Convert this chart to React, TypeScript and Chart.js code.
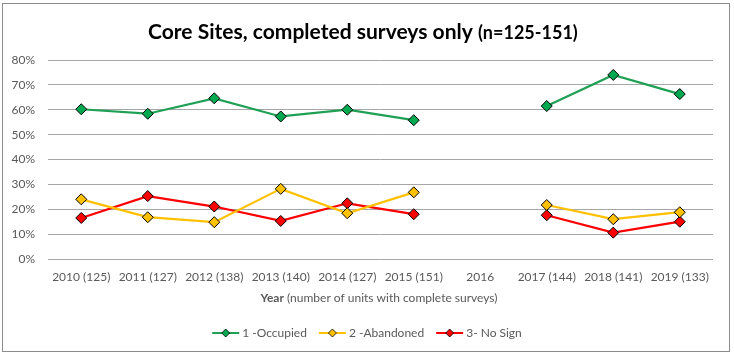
import React, { useEffect, useRef } from "react";
import { Chart, registerables } from "chart.js";

Chart.register(...registerables);

const categories = [
  "2010 (125)",
  "2011 (127)",
  "2012 (138)",
  "2013 (140)",
  "2014 (127)",
  "2015 (151)",
  "2016",
  "2017 (144)",
  "2018 (141)",
  "2019 (133)",
];
const occupied = [60.2, 58.4, 64.6, 57.3, 60.0, 55.8, null, 61.5, 74.0, 66.3];
const abandoned = [24.0, 16.8, 14.8, 28.2, 18.4, 26.8, null, 21.7, 16.0, 18.8];
const noSign = [16.5, 25.3, 21.1, 15.3, 22.4, 18.0, null, 17.6, 10.6, 15.0];
const seriesNames = ["1 -Occupied", "2 -Abandoned", "3- No Sign"];
const lineColors = ["#1FA055", "#FFC000", "#FF0000"];
const markerColors = ["#00A94F", "#FFC000", "#FF0000"];

const FONT = "Lato, 'Open Sans', sans-serif";
const TEXT = "#595959";

function fitFont(ctx: CanvasRenderingContext2D, text: string, weight: string, target: number) {
  ctx.font = `${weight} 20px ${FONT}`;
  const w = ctx.measureText(text).width;
  return (20 * target) / w;
}

const decorPlugin = {
  id: "decor",
  afterDraw(chart: any) {
    const ctx = chart.ctx as CanvasRenderingContext2D;
    ctx.save();
    // outer border
    ctx.strokeStyle = "#8c8c8c";
    ctx.lineWidth = 1;
    ctx.strokeRect(2.5, 3.5, 727, 348);

    // title
    const t1 = "Core Sites, completed surveys only";
    const t2 = "(n=125-151)";
    const s1 = Math.min(22, fitFont(ctx, t1, "bold", 325));
    const s2 = Math.min(18, fitFont(ctx, t2, "bold", 105));
    ctx.fillStyle = "#000";
    ctx.textBaseline = "alphabetic";
    ctx.textAlign = "left";
    ctx.font = `bold ${s1}px ${FONT}`;
    ctx.fillText(t1, 148, 39);
    ctx.font = `bold ${s2}px ${FONT}`;
    ctx.fillText(t2, 478, 39);

    // x axis title
    const a1 = "Year";
    const a2 = " (number of units with complete surveys)";
    ctx.font = `bold 12px ${FONT}`;
    const aw1 = ctx.measureText(a1).width;
    ctx.font = `12px ${FONT}`;
    const aw2 = ctx.measureText(a2).width;
    let x = 379 - (aw1 + aw2) / 2;
    ctx.fillStyle = TEXT;
    ctx.font = `bold 12px ${FONT}`;
    ctx.fillText(a1, x, 302);
    ctx.font = `12px ${FONT}`;
    ctx.fillText(a2, x + aw1, 302);

    // legend
    ctx.font = `12px ${FONT}`;
    const lineLen = 27;
    const gap = 3;
    const itemGap = 12;
    const widths = seriesNames.map((n) => ctx.measureText(n).width);
    const total =
      widths.reduce((p, c) => p + c + lineLen + gap, 0) + itemGap * (seriesNames.length - 1);
    x = 367 - total / 2;
    const y = 333;
    seriesNames.forEach((n, i) => {
      ctx.strokeStyle = lineColors[i];
      ctx.lineWidth = 2;
      ctx.beginPath();
      ctx.moveTo(x, y);
      ctx.lineTo(x + lineLen, y);
      ctx.stroke();
      const cx = x + lineLen / 2;
      const r = 4;
      ctx.beginPath();
      ctx.moveTo(cx, y - r);
      ctx.lineTo(cx + r, y);
      ctx.lineTo(cx, y + r);
      ctx.lineTo(cx - r, y);
      ctx.closePath();
      ctx.fillStyle = markerColors[i];
      ctx.fill();
      ctx.strokeStyle = "#000";
      ctx.lineWidth = 0.8;
      ctx.stroke();
      ctx.fillStyle = TEXT;
      ctx.textBaseline = "middle";
      ctx.fillText(n, x + lineLen + gap, y);
      x += lineLen + gap + widths[i] + itemGap;
    });
    ctx.restore();
  },
};

function makeDataset(label: string, data: (number | null)[], i: number) {
  return {
    label,
    data,
    borderColor: lineColors[i],
    backgroundColor: markerColors[i],
    borderWidth: 2.25,
    pointStyle: "rectRot" as const,
    pointRadius: 5.5,
    pointHoverRadius: 5.5,
    pointBackgroundColor: markerColors[i],
    pointBorderColor: "#000",
    pointBorderWidth: 1,
    spanGaps: false,
    tension: 0,
  };
}

export default function App() {
  const ref = useRef<HTMLCanvasElement | null>(null);
  useEffect(() => {
    if (!ref.current) return;
    const chart = new Chart(ref.current, {
      type: "line",
      data: {
        labels: categories,
        datasets: [
          makeDataset(seriesNames[0], occupied, 0),
          makeDataset(seriesNames[1], abandoned, 1),
          makeDataset(seriesNames[2], noSign, 2),
        ],
      },
      options: {
        responsive: false,
        animation: false,
        layout: { padding: { top: 60, right: 21, left: 0, bottom: 0 } },
        plugins: {
          legend: { display: false },
          title: { display: false },
          tooltip: { enabled: false },
        },
        scales: {
          x: {
            offset: true,
            grid: { display: false, drawTicks: false },
            border: { display: false },
            ticks: {
              color: TEXT,
              font: { family: FONT, size: 12 },
              padding: 11,
              maxRotation: 0,
              autoSkip: false,
            },
            afterFit(scale: any) {
              scale.height = 98;
            },
          },
          y: {
            min: 0,
            max: 80,
            grid: { color: "#a6a6a6", lineWidth: 1, drawTicks: false },
            border: { display: false },
            ticks: {
              stepSize: 10,
              color: TEXT,
              font: { family: FONT, size: 12 },
              padding: 13,
              callback: (v: any) => `${v}%`,
            },
            afterFit(scale: any) {
              scale.width = 48;
            },
          },
        },
      },
      plugins: [decorPlugin],
    });
    return () => chart.destroy();
  }, []);
  return (
    <div style={{ position: "absolute", left: 0, top: 0, width: 734, height: 357, background: "#fff" }}>
      <canvas ref={ref} width={734} height={357} style={{ display: "block" }} />
    </div>
  );
}
